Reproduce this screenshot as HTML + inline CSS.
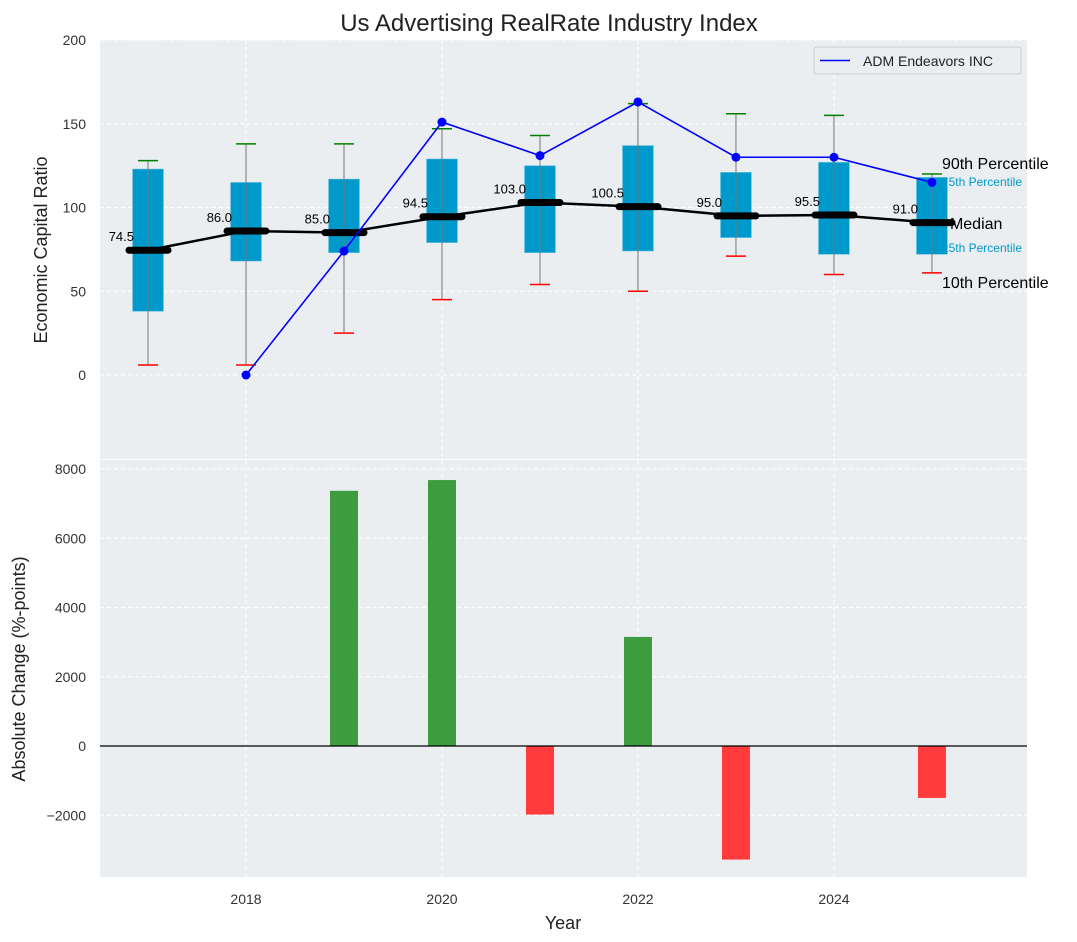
<!DOCTYPE html>
<html><head><meta charset="utf-8"><style>
body{margin:0;background:#fff;}
svg{display:block;font-family:"Liberation Sans","DejaVu Sans",sans-serif;}
</style></head><body>
<svg id="chart" width="1077" height="942" xmlns="http://www.w3.org/2000/svg"></svg>
<script>
const years=[2017,2018,2019,2020,2021,2022,2023,2024,2025];
const p10=[6,6,25,45,54,50,71,60,61];
const q1=[38,68,73,79,73,74,82,72,72];
const med=[74.5,86.0,85.0,94.5,103.0,100.5,95.0,95.5,91.0];
const q3=[123,115,117,129,125,137,121,127,118];
const p90=[128,138,138,147,143,162,156,155,120];
const admYears=[2018,2019,2020,2021,2022,2023,2024,2025];
const admVals=[0,74,151,131,163,130,130,115];
const barYears=[2019,2020,2021,2022,2023,2025];
const barVals=[7370,7680,-1980,3150,-3280,-1500];
const yTicksTop=[0,50,100,150,200];
const yTicksBot=[-2000,0,2000,4000,6000,8000];
const xTicks=[2018,2020,2022,2024];

const NS="http://www.w3.org/2000/svg";
const svg=document.getElementById('chart');
function mk(tag,attrs,parent,text){const e=document.createElementNS(NS,tag);for(const k in attrs)e.setAttribute(k,attrs[k]);if(text!==undefined)e.textContent=text;(parent||svg).appendChild(e);return e;}
const L=100,R=1027;
const X=y=>L+(y-2016.51)*(R-L)/(2025.97-2016.51);
const T0=40,T1=459; const YT=v=>375-v*1.675;
const B0=460,B1=877; const YB=v=>746-v*0.034625;

let e;
e=mk('rect',{x:L,y:T0,width:R-L,height:T1-T0,fill:'#eaeef0'});


e=mk('rect',{x:L,y:B0,width:R-L,height:B1-B0,fill:'#eaeef0'});



xTicks.forEach(t=>{
  mk('line',{x1:X(t),x2:X(t),y1:T0,y2:T1,stroke:'#fff','stroke-dasharray':'4,3','stroke-width':1});
  mk('line',{x1:X(t),x2:X(t),y1:B0,y2:B1,stroke:'#fff','stroke-dasharray':'4,3','stroke-width':1});
  e=mk('text',{x:X(t),y:904,'text-anchor':'middle','font-size':14,fill:'#333'},svg,t);
  
  
});
yTicksTop.forEach(t=>{
  mk('line',{x1:L,x2:R,y1:YT(t),y2:YT(t),stroke:'#fff','stroke-dasharray':'4,3','stroke-width':1});
  e=mk('text',{x:86,y:YT(t)+5,'text-anchor':'end','font-size':14,fill:'#333'},svg,t);
  
  
});
yTicksBot.forEach(t=>{
  mk('line',{x1:L,x2:R,y1:YB(t),y2:YB(t),stroke:'#fff','stroke-dasharray':'4,3','stroke-width':1});
  e=mk('text',{x:86,y:YB(t)+5,'text-anchor':'end','font-size':14,fill:'#333'},svg,t<0?'\u2212'+(-t):t);
  
  
});

// right labels (drawn under boxes)
const lx=X(2025);
[['90th Percentile',169,16,'#000',lx+10],['75th Percentile',186,12,'#0099cc',lx+10],['Median',229,16,'#000',lx+18],['25th Percentile',252,12,'#0099cc',lx+10],['10th Percentile',288,16,'#000',lx+10]].forEach(a=>{
  e=mk('text',{x:a[4],y:a[1],'font-size':a[2],fill:a[3]},svg,a[0]);
  
  
});

years.forEach((y,i)=>{
  const cx=X(y);
  e=mk('rect',{x:cx-15.5,y:YT(q3[i]),width:31,height:YT(q1[i])-YT(q3[i]),fill:'#0099cc',stroke:'#7fcbe5','stroke-width':0.5});
  
  
  e=mk('line',{x1:cx,x2:cx,y1:YT(p10[i]),y2:YT(p90[i]),stroke:'#777','stroke-width':1});
  
  
  e=mk('line',{x1:cx-10,x2:cx+10,y1:YT(p90[i]),y2:YT(p90[i]),stroke:'green','stroke-width':1.5});
  
  
  e=mk('line',{x1:cx-10,x2:cx+10,y1:YT(p10[i]),y2:YT(p10[i]),stroke:'red','stroke-width':1.5});
  
  
});
e=mk('polyline',{points:years.map((y,i)=>X(y)+','+YT(med[i])).join(' '),fill:'none',stroke:'#000','stroke-width':2.5});


years.forEach((y,i)=>{
  const cx=X(y);
  e=mk('line',{x1:cx-19,x2:cx+20,y1:YT(med[i]),y2:YT(med[i]),stroke:'#000','stroke-width':7,'stroke-linecap':'round'});
  
  
  e=mk('text',{x:cx-14,y:YT(med[i])-9,'text-anchor':'end','font-size':13,fill:'#000'},svg,med[i].toFixed(1));
  
  
});
e=mk('polyline',{points:admYears.map((y,i)=>X(y)+','+YT(admVals[i])).join(' '),fill:'none',stroke:'blue','stroke-width':1.6});


admYears.forEach((y,i)=>{
  e=mk('circle',{cx:X(y),cy:YT(admVals[i]),r:4.5,fill:'blue'});
  
  
});
const lg=mk('g',{});


mk('rect',{x:814,y:47,width:207,height:27,fill:'#eaeef0',stroke:'#ccc',rx:3},lg);
mk('line',{x1:820,x2:850,y1:60.5,y2:60.5,stroke:'blue','stroke-width':1.6},lg);
mk('text',{x:863,y:66,'font-size':14,fill:'#222'},lg,'ADM Endeavors INC');

barYears.forEach((y,i)=>{
  const v=barVals[i];
  e=mk('rect',{x:X(y)-14,y:Math.min(YB(v),YB(0)),width:28,height:Math.abs(YB(v)-YB(0)),fill:v>=0?'#3d9c3d':'#ff3b3b'});
  
  
});
e=mk('line',{x1:L,x2:R,y1:YB(0),y2:YB(0),stroke:'#000','stroke-width':1.2});



e=mk('text',{x:549,y:31,'text-anchor':'middle','font-size':24,fill:'#222'},svg,'Us Advertising RealRate Industry Index');


e=mk('text',{x:0,y:0,'text-anchor':'middle','font-size':18,fill:'#222',transform:'translate(47,250) rotate(-90)'},svg,'Economic Capital Ratio');


e=mk('text',{x:0,y:0,'text-anchor':'middle','font-size':18,fill:'#222',transform:'translate(25,669) rotate(-90)'},svg,'Absolute Change (%-points)');


e=mk('text',{x:563,y:929,'text-anchor':'middle','font-size':18,fill:'#222'},svg,'Year');


</script>
</body></html>
